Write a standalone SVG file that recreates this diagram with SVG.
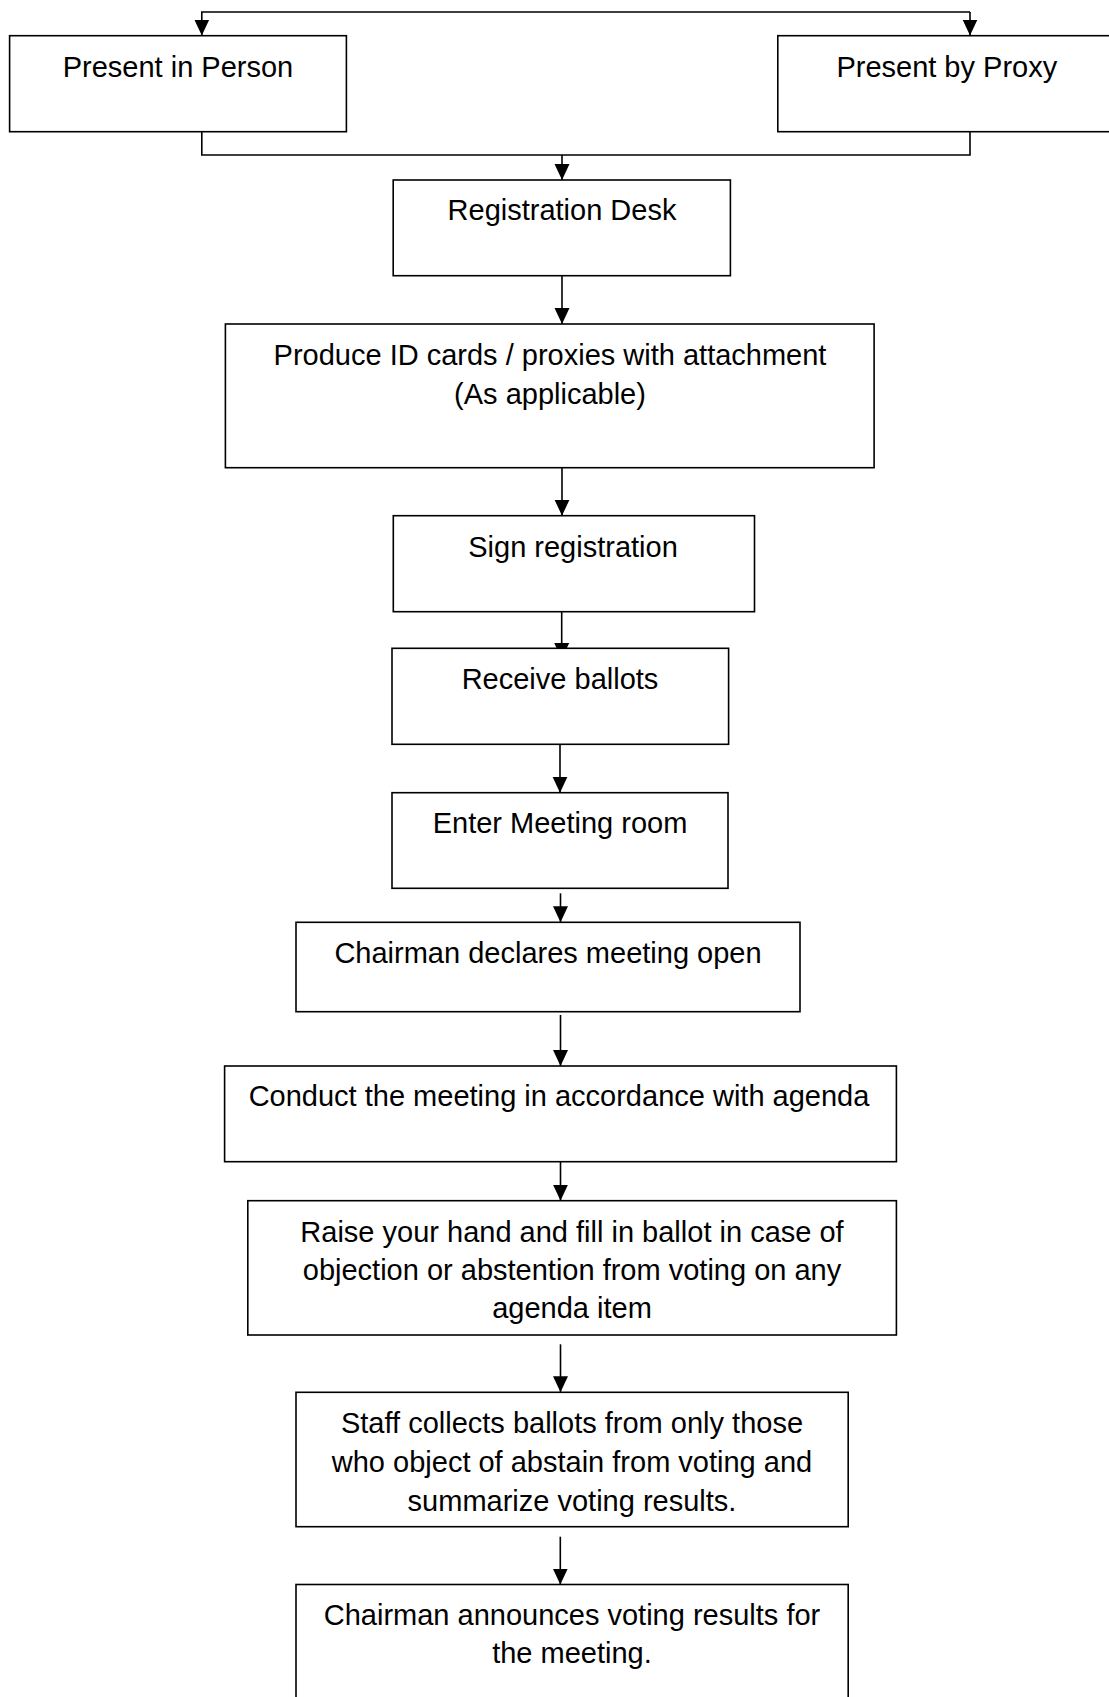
<svg xmlns="http://www.w3.org/2000/svg" width="1109" height="1697" viewBox="0 0 1109 1697">
<style>
  .box { fill: #ffffff; stroke: #000000; stroke-width: 1.6; }
  .lbl { font-family: "Liberation Sans", Arial, sans-serif; font-size: 29px; fill: #000000; text-anchor: middle; }
  .conn { fill: none; stroke: #000000; stroke-width: 1.6; }
</style>
<defs>
  <marker id="arr" markerUnits="userSpaceOnUse" markerWidth="18" markerHeight="18" viewBox="0 0 18 18" refX="16" refY="9" orient="auto">
    <path d="M0,1.5 L16,9 L0,16.5 Z" fill="#000000"/>
  </marker>
</defs>
<rect width="1109" height="1697" fill="#ffffff"/>
<g id="connectors">
  <path class="conn" d="M970,12 H201.8 V35.5" marker-end="url(#arr)"/>
  <path class="conn" d="M970,12 V35.5" marker-end="url(#arr)"/>
  <path class="conn" d="M201.8,131.7 V155 H970 V131.7"/>
  <path class="conn" d="M562,155 V180" marker-end="url(#arr)"/>
  <path class="conn" d="M562,275.7 V324" marker-end="url(#arr)"/>
  <path class="conn" d="M562,467.7 V515.7" marker-end="url(#arr)"/>
  <path class="conn" d="M561.7,611.7 V659" marker-end="url(#arr)"/>
  <path class="conn" d="M560,744.3 V792.7" marker-end="url(#arr)"/>
  <path class="conn" d="M560.5,893.3 V922.3" marker-end="url(#arr)"/>
  <path class="conn" d="M560.5,1015 V1066" marker-end="url(#arr)"/>
  <path class="conn" d="M560.5,1161.7 V1200.7" marker-end="url(#arr)"/>
  <path class="conn" d="M560.5,1344.3 V1392.3" marker-end="url(#arr)"/>
  <path class="conn" d="M560.3,1536.7 V1584.5" marker-end="url(#arr)"/>
</g>
<g id="node-present-person">
  <rect class="box" x="9.6" y="35.7" width="336.8" height="96"/>
  <text class="lbl" x="178" y="77.3">Present in Person</text>
</g>
<g id="node-present-proxy">
  <rect class="box" x="777.8" y="35.7" width="340" height="96"/>
  <text class="lbl" x="946.8" y="77.3">Present by Proxy</text>
</g>
<g id="node-registration">
  <rect class="box" x="393.2" y="180" width="337.2" height="95.7"/>
  <text class="lbl" x="562" y="220">Registration Desk</text>
</g>
<g id="node-produce">
  <rect class="box" x="225.4" y="324" width="648.7" height="143.7"/>
  <text class="lbl" x="550" y="365">Produce ID cards / proxies with attachment</text>
  <text class="lbl" x="550" y="404">(As applicable)</text>
</g>
<g id="node-sign">
  <rect class="box" x="393.3" y="515.7" width="361.2" height="96"/>
  <text class="lbl" x="573" y="556.7">Sign registration</text>
</g>
<g id="node-receive">
  <rect class="box" x="392" y="648.3" width="336.6" height="96"/>
  <text class="lbl" x="560" y="689.3">Receive ballots</text>
</g>
<g id="node-enter">
  <rect class="box" x="392" y="792.7" width="336" height="95.6"/>
  <text class="lbl" x="560" y="833.3">Enter Meeting room</text>
</g>
<g id="node-chairman-open">
  <rect class="box" x="296" y="922.3" width="504" height="89.4"/>
  <text class="lbl" x="548" y="962.7">Chairman declares meeting open</text>
</g>
<g id="node-conduct">
  <rect class="box" x="224.6" y="1066" width="671.8" height="95.7"/>
  <text class="lbl" x="559" y="1105.7">Conduct the meeting in accordance with agenda</text>
</g>
<g id="node-raise">
  <rect class="box" x="247.8" y="1200.7" width="648.6" height="134.3"/>
  <text class="lbl" x="572" y="1241.7">Raise your hand and fill in ballot in case of</text>
  <text class="lbl" x="572" y="1280">objection or abstention from voting on any</text>
  <text class="lbl" x="572" y="1318.3">agenda item</text>
</g>
<g id="node-staff">
  <rect class="box" x="296" y="1392.3" width="552.2" height="134.4"/>
  <text class="lbl" x="572" y="1433.3">Staff collects ballots from only those</text>
  <text class="lbl" x="572" y="1471.7">who object of abstain from voting and</text>
  <text class="lbl" x="572" y="1510.5">summarize voting results.</text>
</g>
<g id="node-announce">
  <rect class="box" x="296" y="1584.5" width="552.2" height="130"/>
  <text class="lbl" x="572" y="1625">Chairman announces voting results for</text>
  <text class="lbl" x="572" y="1663.3">the meeting.</text>
</g>
</svg>
